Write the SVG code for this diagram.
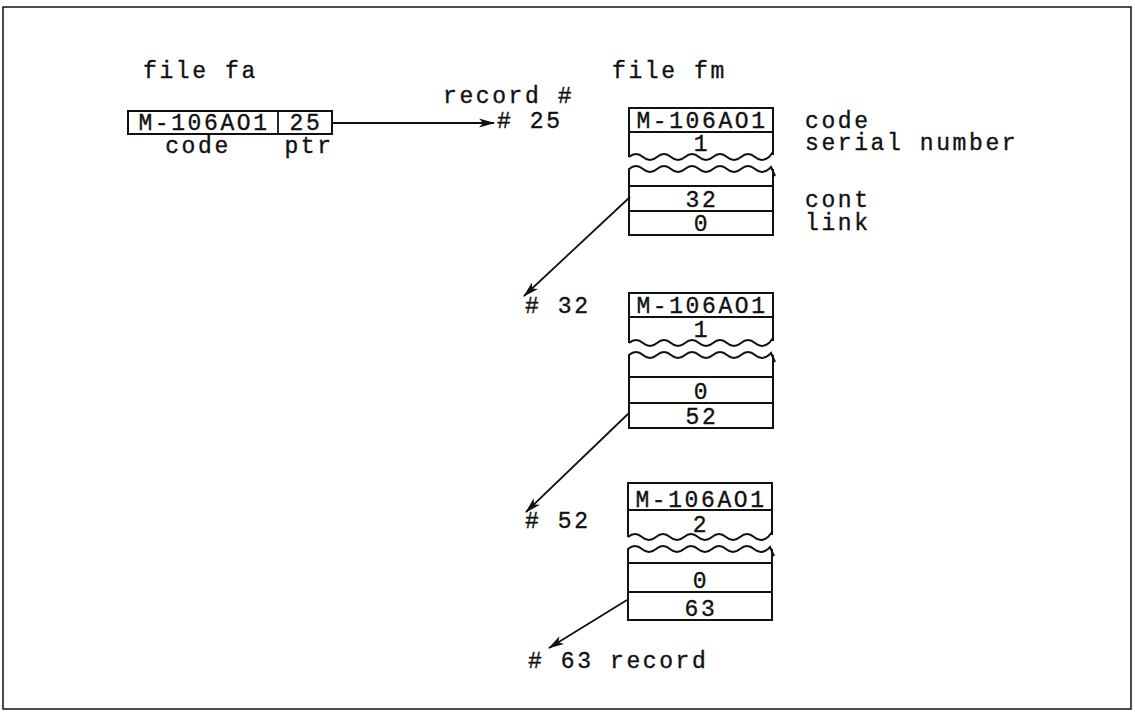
<svg xmlns="http://www.w3.org/2000/svg" width="1135" height="714" viewBox="0 0 1135 714">
<defs>
<style>
text{font-family:"Liberation Mono","DejaVu Sans Mono",monospace;font-size:23px;letter-spacing:2.6px;fill:#111;stroke:#111;stroke-width:0.35}
.c{text-anchor:middle}
.box{fill:none;stroke:#111;stroke-width:2}
.ln{fill:none;stroke:#111;stroke-width:1.8}
.wv{fill:none;stroke:#111;stroke-width:2}
</style>
<marker id="ah" viewBox="0 0 16 10" refX="15" refY="5" markerWidth="16" markerHeight="10" markerUnits="userSpaceOnUse" orient="auto">
<path d="M0,0.5 L16,5 L0,9.5 L4,5 Z" fill="#111"/>
</marker>
</defs>
<rect x="3" y="7" width="1128" height="702" fill="none" stroke="#111" stroke-width="1.5"/>

<g id="file-fa">
<text x="143" y="78">file fa</text>
<rect class="box" x="128" y="111" width="204" height="23"/>
<line class="ln" x1="278" y1="111" x2="278" y2="134"/>
<text class="c" x="204" y="130">M-106AO1</text>
<text class="c" x="306" y="130">25</text>
<text class="c" x="198" y="153">code</text>
<text class="c" x="309" y="153">ptr</text>
</g>

<g id="headings">
<text x="612" y="78">file fm</text>
<text x="443" y="103">record #</text>
</g>

<g id="record-25">
<text x="497" y="128"># 25</text>
<path class="box" d="M629,157 L629,108 L773,108 L773,155"/>
<line class="ln" x1="629" y1="132" x2="773" y2="132"/>
<path class="wv" d="M629,157 q7,-6 14,0 t14,0 t14,0 t14,0 t14,0 t14,0 t14,0 t14,0 t14,0 t14,0 l4,-5"/>
<path class="wv" d="M629,176 L629,169 q7,-6 14,0 t14,0 t14,0 t14,0 t14,0 t14,0 t14,0 t14,0 t14,0 t14,0 l2,-2 L775,176"/>
<path class="box" d="M629,169 L629,235 L773,235 L773,169"/>
<line class="ln" x1="629" y1="186" x2="773" y2="186"/>
<line class="ln" x1="629" y1="211" x2="773" y2="211"/>
<text class="c" x="702" y="128">M-106AO1</text>
<text class="c" x="702" y="151">1</text>
<text class="c" x="702" y="207">32</text>
<text class="c" x="702" y="231">0</text>
<text x="805" y="128">code</text>
<text x="805" y="150">serial number</text>
<text x="805" y="207">cont</text>
<text x="805" y="230">link</text>
</g>

<g id="record-32">
<text x="525" y="313"># 32</text>
<path class="box" d="M629,343 L629,293 L773,293 L773,341"/>
<line class="ln" x1="629" y1="317" x2="773" y2="317"/>
<path class="wv" d="M629,343 q7,-6 14,0 t14,0 t14,0 t14,0 t14,0 t14,0 t14,0 t14,0 t14,0 t14,0 l4,-5"/>
<path class="wv" d="M629,362 L629,355 q7,-6 14,0 t14,0 t14,0 t14,0 t14,0 t14,0 t14,0 t14,0 t14,0 t14,0 l2,-2 L775,362"/>
<path class="box" d="M629,355 L629,428 L773,428 L773,355"/>
<line class="ln" x1="629" y1="377" x2="773" y2="377"/>
<line class="ln" x1="629" y1="403" x2="773" y2="403"/>
<text class="c" x="702" y="313">M-106AO1</text>
<text class="c" x="702" y="337">1</text>
<text class="c" x="702" y="399">0</text>
<text class="c" x="702" y="424">52</text>
</g>

<g id="record-52">
<text x="525" y="528"># 52</text>
<path class="box" d="M628,537 L628,483 L772,483 L772,535"/>
<line class="ln" x1="628" y1="510" x2="772" y2="510"/>
<path class="wv" d="M628,537 q7,-6 14,0 t14,0 t14,0 t14,0 t14,0 t14,0 t14,0 t14,0 t14,0 t14,0 l4,-5"/>
<path class="wv" d="M628,556 L628,549 q7,-6 14,0 t14,0 t14,0 t14,0 t14,0 t14,0 t14,0 t14,0 t14,0 t14,0 l2,-2 L774,556"/>
<path class="box" d="M628,549 L628,620 L772,620 L772,549"/>
<line class="ln" x1="628" y1="563" x2="772" y2="563"/>
<line class="ln" x1="628" y1="592" x2="772" y2="592"/>
<text class="c" x="701" y="507">M-106AO1</text>
<text class="c" x="701" y="532">2</text>
<text class="c" x="701" y="588">0</text>
<text class="c" x="701" y="616">63</text>
</g>

<g id="record-63">
<text x="528" y="668"># 63 record</text>
</g>

<g id="connectors">
<line class="ln" x1="332" y1="123" x2="494" y2="123" marker-end="url(#ah)"/>
<line class="ln" x1="630" y1="197" x2="524" y2="296" marker-end="url(#ah)"/>
<line class="ln" x1="629" y1="413" x2="526" y2="512" marker-end="url(#ah)"/>
<line class="ln" x1="627" y1="600" x2="549" y2="648" marker-end="url(#ah)"/>
</g>
</svg>
